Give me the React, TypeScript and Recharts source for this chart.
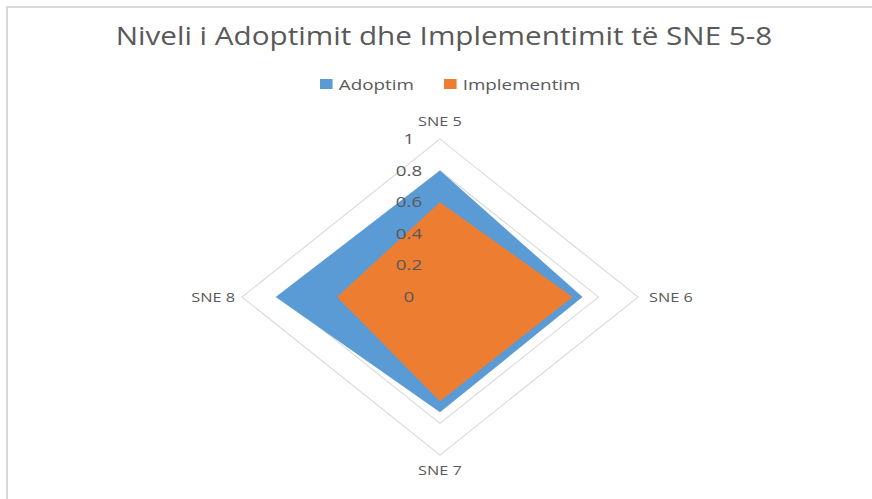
import React from "react";
import { RadarChart, Radar, PolarGrid, PolarAngleAxis, PolarRadiusAxis } from "recharts";

const categories = ["SNE 5", "SNE 6", "SNE 7", "SNE 8"];
const adoptim = [0.8, 0.72, 0.73, 0.83];
const implementim = [0.6, 0.67, 0.66, 0.52];
const radiusTicks = [0, 0.2, 0.4, 0.6, 0.8, 1];

const BLUE = "#5B9BD5";
const ORANGE = "#ED7D31";
const TEXT = "#595959";
const FONT = "'Open Sans', 'Noto Sans', sans-serif";

// the whole reference picture is stretched sideways by about this much
const SX = 1.253;
const CX = 440;
const CY = 297;

const data = categories.map((c, i) => ({
  name: c,
  adoptim: adoptim[i],
  implementim: implementim[i],
}));

function AngleTick(props: any) {
  const { x, y, payload } = props;
  const dx = x - CX;
  const dy = y - CY;
  let anchor: "start" | "middle" | "end" = "middle";
  let ox = 0;
  let oy = 5;
  if (Math.abs(dy) > Math.abs(dx)) {
    oy = dy < 0 ? -5 : 12;
  } else if (dx > 0) {
    anchor = "start";
    ox = 1 / SX;
  } else {
    anchor = "end";
    ox = 3 / SX;
  }
  return (
    <text x={x + ox} y={y + oy} textAnchor={anchor} fill={TEXT} fontSize={13} fontFamily={FONT}>
      {payload.value}
    </text>
  );
}

function RadiusTick(props: any) {
  const { x, y, payload } = props;
  return (
    <text x={x - 31 / SX} y={y + 5} textAnchor="middle" fill={TEXT} fontSize={15} fontFamily={FONT}>
      {String(payload.value)}
    </text>
  );
}

function LegendItem({ color, label, gap }: { color: string; label: string; gap: number }) {
  return (
    <span style={{ display: "inline-flex", alignItems: "center", marginRight: gap }}>
      <span style={{ width: 10, height: 10, background: color, display: "inline-block", marginRight: 5 }} />
      <span>{label}</span>
    </span>
  );
}

export default function App() {
  return (
    <div
      style={{
        position: "absolute",
        left: 0,
        top: 0,
        width: 872,
        height: 499,
        background: "#fff",
        overflow: "hidden",
        fontFamily: FONT,
      }}
    >
      <div
        style={{
          position: "absolute",
          left: 6,
          top: 6,
          width: 872,
          height: 499,
          borderTop: "2px solid #d9d9d9",
          borderLeft: "2px solid #d9d9d9",
        }}
      />
      <div
        style={{
          position: "absolute",
          left: 0,
          top: 18,
          width: 888,
          textAlign: "center",
          fontSize: 25,
          color: TEXT,
          lineHeight: "34px",
          transform: "scaleX(1.186)",
          transformOrigin: "444px 0",
          whiteSpace: "nowrap",
        }}
      >
        Niveli i Adoptimit dhe Implementimit të SNE 5-8
      </div>
      <div
        style={{
          position: "absolute",
          left: 320,
          top: 73,
          fontSize: 15,
          color: TEXT,
          lineHeight: "20px",
          whiteSpace: "nowrap",
          transform: `scaleX(${SX})`,
          transformOrigin: "0 0",
        }}
      >
        <LegendItem color={BLUE} label="Adoptim" gap={24} />
        <LegendItem color={ORANGE} label="Implementim" gap={0} />
      </div>
      <div
        style={{
          position: "absolute",
          left: 0,
          top: 0,
          width: 872,
          height: 499,
          transform: `scaleX(${SX})`,
          transformOrigin: `${CX}px ${CY}px`,
        }}
      >
        <RadarChart
          width={872}
          height={499}
          cx={CX}
          cy={CY}
          outerRadius={158}
          data={data}
          margin={{ top: 0, right: 0, bottom: 0, left: 0 }}
        >
          <PolarGrid gridType="polygon" radialLines={false} stroke="#d9d9d9" />
          <PolarAngleAxis dataKey="name" tick={AngleTick} tickLine={false} axisLine={false} tickSize={8} />
          <Radar
            dataKey="adoptim"
            name="Adoptim"
            fill={BLUE}
            fillOpacity={1}
            stroke="none"
            isAnimationActive={false}
          />
          <Radar
            dataKey="implementim"
            name="Implementim"
            fill={ORANGE}
            fillOpacity={1}
            stroke="none"
            isAnimationActive={false}
          />
          <PolarRadiusAxis
            angle={90}
            type="number"
            scale="linear"
            domain={[0, 1]}
            ticks={radiusTicks as any}
            tickCount={radiusTicks.length}
            tick={RadiusTick}
            axisLine={false}
            tickLine={false}
          />
        </RadarChart>
      </div>
    </div>
  );
}
